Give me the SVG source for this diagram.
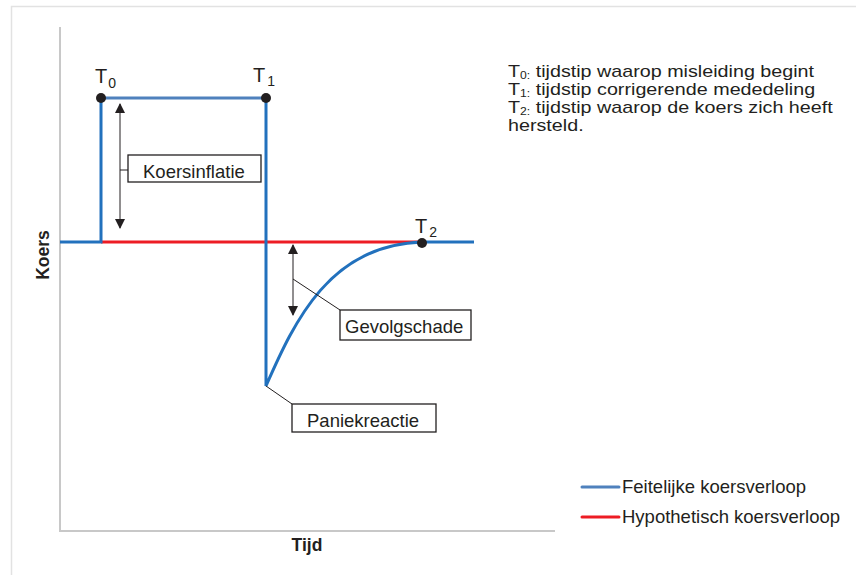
<svg xmlns="http://www.w3.org/2000/svg" width="856" height="575" viewBox="0 0 856 575">
  <defs>
    <marker id="ah" viewBox="0 0 10 10" refX="9" refY="5" markerWidth="10" markerHeight="10" markerUnits="userSpaceOnUse" orient="auto-start-reverse">
      <path d="M0,0 L10,5 L0,10 Z" fill="#231f20"/>
    </marker>
    <style>
      text { font-family: "Liberation Sans", Arial, sans-serif; fill: #231f20; }
      .frame { fill: none; stroke: #e2e2e2; stroke-width: 1.5; }
      .axis { fill: none; stroke: #c8c8c8; stroke-width: 2; }
      .actual { fill: none; stroke: #2271bd; stroke-width: 3; }
      .actual-top { fill: none; stroke: #4f81bd; stroke-width: 3; }
      .hypo { fill: none; stroke: #ed1c24; stroke-width: 3; }
      .dot { fill: #231f20; }
      .dim { stroke: #231f20; stroke-width: 1; fill: none; }
      .box { fill: #ffffff; stroke: #231f20; stroke-width: 1.3; }
      .lbl { font-size: 18.5px; }
      .tlab { font-size: 20px; }
      .tsub { font-size: 14px; }
      .note { font-size: 17px; }
      .nsub { font-size: 10.5px; }
      .ax { font-size: 17.5px; font-weight: bold; }
    </style>
  </defs>

  <rect width="856" height="575" fill="#ffffff"/>
  <!-- outer frame -->
  <path class="frame" d="M11.5,575 V6.5 H856"/>

  <!-- axes -->
  <g id="axes">
    <path class="axis" d="M60,27 V531 H555"/>
    <text class="ax" x="49" y="255" text-anchor="middle" transform="rotate(-90 49 255)">Koers</text>
    <text class="ax" x="307" y="551" text-anchor="middle">Tijd</text>
  </g>

  <!-- price curves -->
  <g id="curves">
    <path class="hypo" d="M101,242 H422"/>
    <path class="actual" d="M60,242 H101 V98"/>
    <path class="actual-top" d="M101,98 H266"/>
    <path class="actual" d="M266,98 V386 C295,320 330,245 422,242 H474"/>
  </g>

  <!-- connectors: dimension arrows and leaders -->
  <g id="connectors">
    <line class="dim" x1="120" y1="228" x2="120" y2="104" marker-end="url(#ah)" marker-start="url(#ah)"/>
    <line class="dim" x1="120" y1="170" x2="128" y2="170"/>
    <line class="dim" x1="293" y1="315" x2="293" y2="245" marker-end="url(#ah)" marker-start="url(#ah)"/>
    <line class="dim" x1="293" y1="279" x2="340" y2="310"/>
    <line class="dim" x1="266" y1="386" x2="292" y2="404"/>
  </g>

  <!-- time markers -->
  <g id="t0">
    <circle class="dot" cx="101" cy="98" r="5"/>
    <text x="95" y="83"><tspan class="tlab">T</tspan><tspan class="tsub" dx="1" dy="5">0</tspan></text>
  </g>
  <g id="t1">
    <circle class="dot" cx="266" cy="98" r="5"/>
    <text x="253" y="82"><tspan class="tlab">T</tspan><tspan class="tsub" dx="2" dy="4">1</tspan></text>
  </g>
  <g id="t2">
    <circle class="dot" cx="422" cy="243" r="5"/>
    <text x="415" y="233"><tspan class="tlab">T</tspan><tspan class="tsub" dx="2" dy="4">2</tspan></text>
  </g>

  <!-- labelled boxes -->
  <g id="koersinflatie">
    <rect class="box" x="128" y="155" width="133" height="27"/>
    <text class="lbl" x="143" y="178">Koersinflatie</text>
  </g>
  <g id="gevolgschade">
    <rect class="box" x="340" y="310" width="131" height="30"/>
    <text class="lbl" x="345" y="333">Gevolgschade</text>
  </g>
  <g id="paniekreactie">
    <rect class="box" x="292" y="404" width="144" height="28"/>
    <text class="lbl" x="307" y="427">Paniekreactie</text>
  </g>

  <!-- explanation of time points (set slightly wide) -->
  <g id="notes" transform="translate(508 0) scale(1.16 1) translate(-508 0)">
    <text class="note" x="508" y="77">T<tspan class="nsub" dy="2">0:</tspan><tspan dy="-2"> tijdstip waarop misleiding begint</tspan></text>
    <text class="note" x="508" y="95">T<tspan class="nsub" dy="2">1:</tspan><tspan dy="-2"> tijdstip corrigerende mededeling</tspan></text>
    <text class="note" x="508" y="113">T<tspan class="nsub" dy="2">2:</tspan><tspan dy="-2"> tijdstip waarop de koers zich heeft</tspan></text>
    <text class="note" x="508" y="131">hersteld.</text>
  </g>

  <!-- legend -->
  <g id="legend">
    <line x1="582" y1="487" x2="619" y2="487" stroke="#4f81bd" stroke-width="3" stroke-linecap="round"/>
    <text class="lbl" x="622" y="493">Feitelijke koersverloop</text>
    <line x1="582" y1="517" x2="619" y2="517" stroke="#ed1c24" stroke-width="3" stroke-linecap="round"/>
    <text class="lbl" x="622" y="523">Hypothetisch koersverloop</text>
  </g>
</svg>
